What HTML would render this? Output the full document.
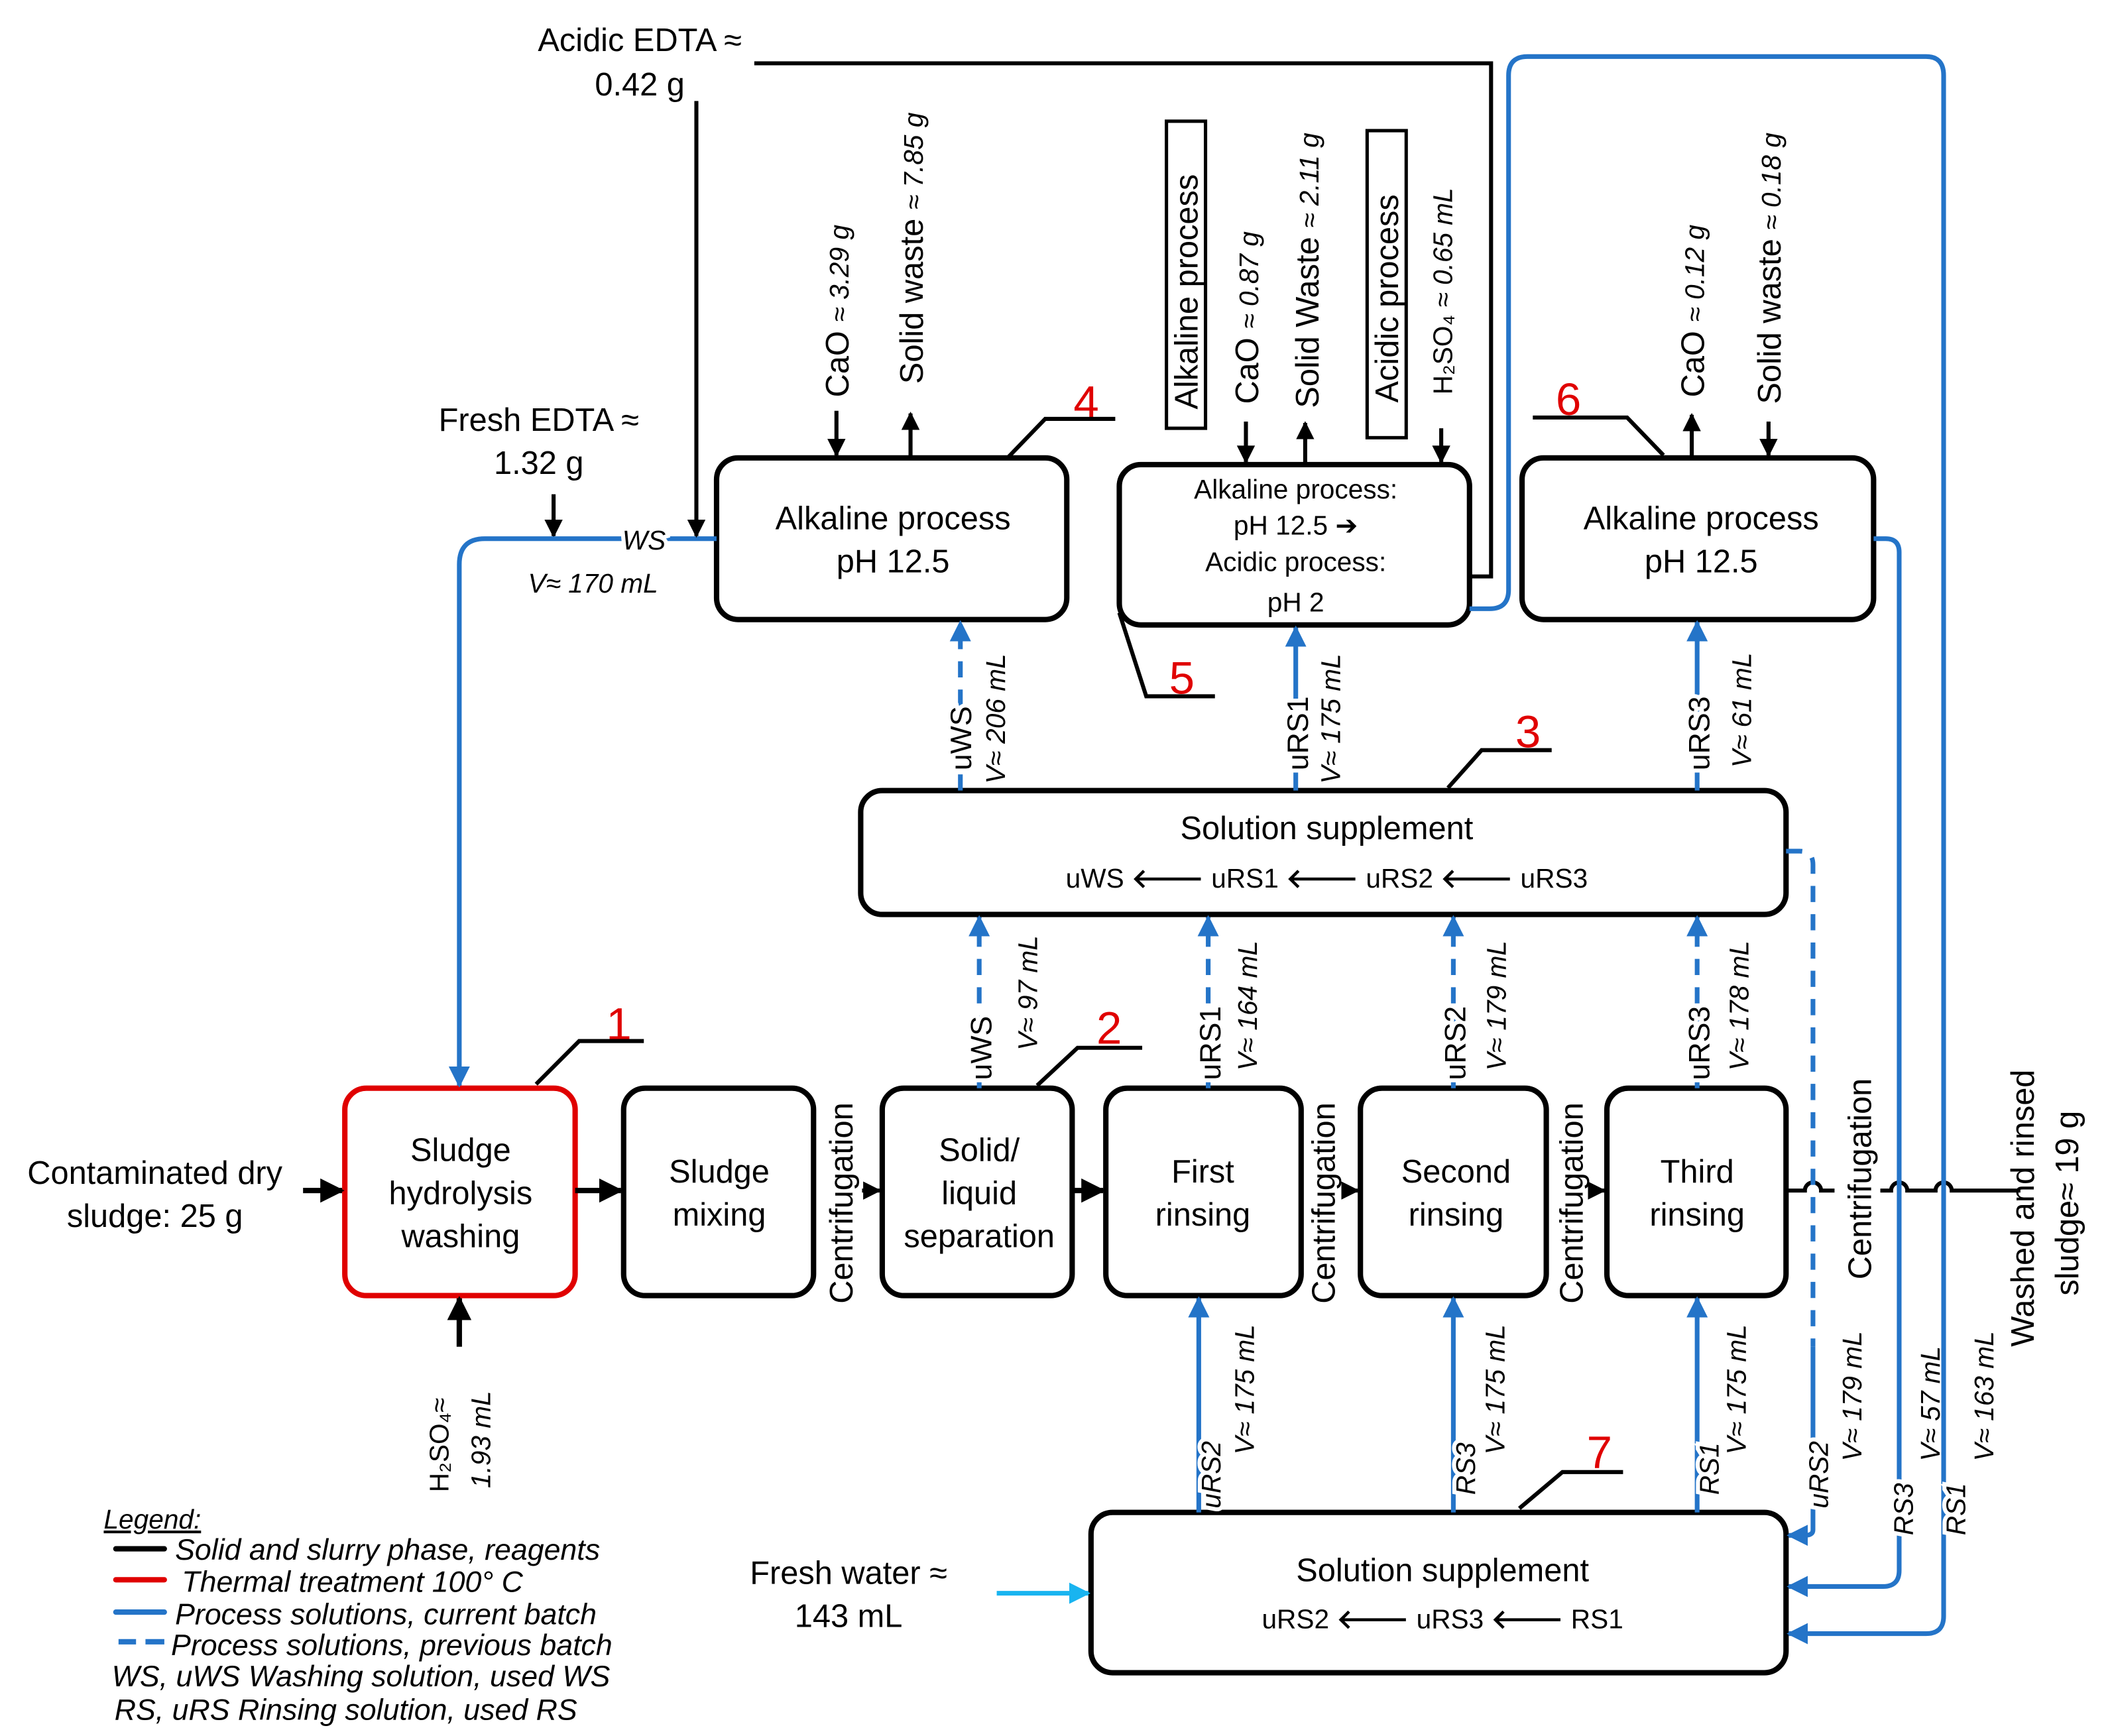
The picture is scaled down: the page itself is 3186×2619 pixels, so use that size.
<!DOCTYPE html>
<html><head><meta charset="utf-8"><style>
html,body{margin:0;padding:0;background:#fff}
svg{display:block}
text{font-family:"Liberation Sans",Arial,sans-serif;fill:#000}
.it{font-style:italic}
.b{fill:none;stroke:#000;stroke-width:4}
.l{fill:none;stroke:#000;stroke-width:3}
.bl{fill:none;stroke:#2474c8;stroke-width:3.5}
.dl{fill:none;stroke:#2474c8;stroke-width:3.5;stroke-dasharray:12,9}
.r{fill:#e00000;font-size:34px}
</style></head><body>
<svg width="3186" height="2619" viewBox="0 0 1568 1289" preserveAspectRatio="none" xmlns="http://www.w3.org/2000/svg">
<defs>
<marker id="ak" viewBox="0 0 10 10" refX="9" refY="5" markerWidth="4.5" markerHeight="4.5" orient="auto" markerUnits="strokeWidth"><path d="M0,0L10,5L0,10z" fill="#000"/></marker>
<marker id="ab" viewBox="0 0 10 10" refX="9" refY="5" markerWidth="4.5" markerHeight="4.5" orient="auto" markerUnits="strokeWidth"><path d="M0,0L10,5L0,10z" fill="#2474c8"/></marker>
<marker id="ac" viewBox="0 0 10 10" refX="9" refY="5" markerWidth="4.5" markerHeight="4.5" orient="auto" markerUnits="strokeWidth"><path d="M0,0L10,5L0,10z" fill="#19b4f0"/></marker>
</defs>

<rect x="256" y="808" width="171" height="154" rx="16" fill="none" stroke="#e00000" stroke-width="4"/>
<rect x="463" y="808" width="141" height="154" rx="16" class="b"/>
<rect x="655" y="808" width="141" height="154" rx="16" class="b"/>
<rect x="821" y="808" width="145" height="154" rx="16" class="b"/>
<rect x="1010" y="808" width="138" height="154" rx="16" class="b"/>
<rect x="1193" y="808" width="133" height="154" rx="16" class="b"/>
<rect x="639" y="587" width="687" height="92" rx="16" class="b"/>
<rect x="532" y="340" width="260" height="120" rx="16" class="b"/>
<rect x="831" y="345" width="260" height="119" rx="16" class="b"/>
<rect x="1130" y="340" width="261" height="120" rx="16" class="b"/>
<rect x="810" y="1123" width="516" height="119" rx="16" class="b"/>

<g font-size="24" text-anchor="middle">
<text x="342" y="862">Sludge</text><text x="342" y="894">hydrolysis</text><text x="342" y="926">washing</text>
<text x="534" y="878">Sludge</text><text x="534" y="910">mixing</text>
<text x="727" y="862">Solid/</text><text x="727" y="894">liquid</text><text x="727" y="926">separation</text>
<text x="893" y="878">First</text><text x="893" y="910">rinsing</text>
<text x="1081" y="878">Second</text><text x="1081" y="910">rinsing</text>
<text x="1260" y="878">Third</text><text x="1260" y="910">rinsing</text>
<text x="985" y="623">Solution supplement</text>
<text x="663" y="393">Alkaline process</text><text x="663" y="425">pH 12.5</text>
<text x="1263" y="393">Alkaline process</text><text x="1263" y="425">pH 12.5</text>
<text x="1071" y="1174">Solution supplement</text>
<text x="115" y="879">Contaminated dry</text><text x="115" y="911">sludge: 25 g</text>
<text x="400" y="320">Fresh EDTA ≈</text><text x="400" y="352">1.32 g</text>
<text x="475" y="38">Acidic EDTA ≈</text><text x="475" y="71">0.42 g</text>
<text x="630" y="1176">Fresh water ≈</text><text x="630" y="1208">143 mL</text>
</g>
<g font-size="20" text-anchor="middle">
<text x="985" y="659">uWS <tspan font-weight="bold">🡐</tspan> uRS1 <tspan font-weight="bold">🡐</tspan> uRS2 <tspan font-weight="bold">🡐</tspan> uRS3</text>
<text x="1071" y="1209">uRS2 <tspan font-weight="bold">🡐</tspan> uRS3 <tspan font-weight="bold">🡐</tspan> RS1</text>
<text x="962" y="370">Alkaline process:</text>
<text x="962" y="397">pH 12.5 ➔</text>
<text x="962" y="424">Acidic process:</text>
<text x="962" y="454">pH 2</text>
</g>

<line x1="225" y1="884" x2="254" y2="884" class="b" marker-end="url(#ak)"/>
<line x1="427" y1="884" x2="461" y2="884" class="b" marker-end="url(#ak)"/>
<line x1="640" y1="884" x2="653" y2="884" class="l" marker-end="url(#ak)"/>
<line x1="796" y1="884" x2="819" y2="884" class="b" marker-end="url(#ak)"/>
<line x1="1000" y1="884" x2="1008" y2="884" class="l" marker-end="url(#ak)"/>
<line x1="1184" y1="884" x2="1191" y2="884" class="l" marker-end="url(#ak)"/>
<path d="M1326,884 H1340 A6,6 0 0 1 1352,884 H1362 M1396,884 H1404 A6,6 0 0 1 1416,884 H1437 A6,6 0 0 1 1449,884 H1500" class="l"/>
<g font-size="24">
<text transform="translate(633,968) rotate(-90)">Centrifugation</text>
<text transform="translate(991,968) rotate(-90)">Centrifugation</text>
<text transform="translate(1175,968) rotate(-90)">Centrifugation</text>
<text transform="translate(1389,950) rotate(-90)">Centrifugation</text>
<text transform="translate(1510,1000) rotate(-90)">Washed and rinsed</text>
<text transform="translate(1543,962) rotate(-90)">sludge≈ 19 g</text>
</g>

<line x1="341" y1="1000" x2="341" y2="964" class="b" marker-end="url(#ak)"/>
<text font-size="20" transform="translate(333,1108) rotate(-90)">H₂SO₄≈</text>
<text font-size="20" class="it" transform="translate(364,1105) rotate(-90)">1.93 mL</text>

<line x1="411" y1="367" x2="411" y2="398" class="l" marker-end="url(#ak)"/>
<path d="M532,400 H360 Q341,400 341,419 V806" class="bl" marker-end="url(#ab)"/>
<text x="462" y="408" font-size="20" class="it" fill="#000" style="paint-order:stroke" stroke="#fff" stroke-width="6">WS</text>
<text x="392" y="440" font-size="20" class="it">V≈ 170 mL</text>
<line x1="517" y1="75" x2="517" y2="398" class="l" marker-end="url(#ak)"/>
<path d="M560,47 H1107 V428 H1091" class="l"/>
<path d="M1091,452 H1106 Q1120,452 1120,438 V56 Q1120,42 1134,42 H1430 Q1443,42 1443,56 V1200 Q1443,1213 1430,1213 H1328" class="bl" marker-end="url(#ab)"/>
<path d="M1391,400 H1400 Q1410,400 1410,410 V1166 Q1410,1178 1398,1178 H1328" class="bl" marker-end="url(#ab)"/>
<path d="M1326,632 H1336 Q1346,632 1346,642 V1000" class="dl"/>
<path d="M1346,1000 V1136 Q1346,1140 1340,1140 H1328" class="bl" marker-end="url(#ab)"/>

<line x1="621" y1="305" x2="621" y2="338" class="l" marker-end="url(#ak)"/>
<line x1="676" y1="340" x2="676" y2="307" class="l" marker-end="url(#ak)"/>
<text font-size="24" transform="translate(630,295) rotate(-90)">CaO <tspan class="it" font-size="20">≈ 3.29 g</tspan></text>
<text font-size="24" transform="translate(685,285) rotate(-90)">Solid waste <tspan class="it" font-size="20">≈ 7.85 g</tspan></text>
<text class="r" x="797" y="310">4</text>
<path d="M748,340 L776,311 H828" class="l"/>

<rect x="866" y="90" width="29" height="228" fill="none" stroke="#000" stroke-width="2.5"/>
<text font-size="24" transform="translate(889,304) rotate(-90)">Alkaline process</text>
<rect x="1015" y="97" width="29" height="228" fill="none" stroke="#000" stroke-width="2.5"/>
<text font-size="24" transform="translate(1038,299) rotate(-90)">Acidic process</text>
<line x1="925" y1="313" x2="925" y2="343" class="l" marker-end="url(#ak)"/>
<line x1="969" y1="345" x2="969" y2="314" class="l" marker-end="url(#ak)"/>
<line x1="1070" y1="318" x2="1070" y2="343" class="l" marker-end="url(#ak)"/>
<text font-size="24" transform="translate(934,300) rotate(-90)">CaO <tspan class="it" font-size="20">≈ 0.87 g</tspan></text>
<text font-size="24" transform="translate(979,303) rotate(-90)">Solid Waste <tspan class="it" font-size="20">≈ 2.11 g</tspan></text>
<text font-size="20" transform="translate(1078,293) rotate(-90)">H₂SO₄ <tspan class="it">≈ 0.65 mL</tspan></text>
<text class="r" x="868" y="515">5</text>
<path d="M831,455 L851,517 H902" class="l"/>

<text class="r" x="1155" y="308">6</text>
<path d="M1138,310 H1208 L1235,338" class="l"/>
<line x1="1256" y1="340" x2="1256" y2="308" class="l" marker-end="url(#ak)"/>
<line x1="1313" y1="313" x2="1313" y2="338" class="l" marker-end="url(#ak)"/>
<text font-size="24" transform="translate(1265,295) rotate(-90)">CaO <tspan class="it" font-size="20">≈ 0.12 g</tspan></text>
<text font-size="24" transform="translate(1322,300) rotate(-90)">Solid waste <tspan class="it" font-size="20">≈ 0.18 g</tspan></text>

<line x1="713" y1="587" x2="713" y2="462" class="dl" marker-end="url(#ab)"/>
<line x1="962" y1="587" x2="962" y2="466" class="bl" marker-end="url(#ab)"/>
<line x1="1260" y1="587" x2="1260" y2="462" class="bl" marker-end="url(#ab)"/>
<g font-size="22">
<text transform="translate(721,572) rotate(-90)" style="paint-order:stroke" stroke="#fff" stroke-width="6">uWS</text>
<text transform="translate(971,572) rotate(-90)" style="paint-order:stroke" stroke="#fff" stroke-width="6">uRS1</text>
<text transform="translate(1269,572) rotate(-90)" style="paint-order:stroke" stroke="#fff" stroke-width="6">uRS3</text>
</g>
<g font-size="20" class="it">
<text transform="translate(746,582) rotate(-90)">V≈ 206 mL</text>
<text transform="translate(995,582) rotate(-90)">V≈ 175 mL</text>
<text transform="translate(1300,570) rotate(-90)">V≈ 61 mL</text>
</g>
<text class="r" x="1125" y="555">3</text>
<path d="M1075,585 L1100,557 H1152" class="l"/>

<line x1="727" y1="808" x2="727" y2="681" class="dl" marker-end="url(#ab)"/>
<line x1="897" y1="808" x2="897" y2="681" class="dl" marker-end="url(#ab)"/>
<line x1="1079" y1="808" x2="1079" y2="681" class="dl" marker-end="url(#ab)"/>
<line x1="1260" y1="808" x2="1260" y2="681" class="dl" marker-end="url(#ab)"/>
<g font-size="22">
<text transform="translate(736,802) rotate(-90)" style="paint-order:stroke" stroke="#fff" stroke-width="6">uWS</text>
<text transform="translate(906,802) rotate(-90)" style="paint-order:stroke" stroke="#fff" stroke-width="6">uRS1</text>
<text transform="translate(1088,802) rotate(-90)" style="paint-order:stroke" stroke="#fff" stroke-width="6">uRS2</text>
<text transform="translate(1269,802) rotate(-90)" style="paint-order:stroke" stroke="#fff" stroke-width="6">uRS3</text>
</g>
<g font-size="20" class="it">
<text transform="translate(770,780) rotate(-90)">V≈ 97 mL</text>
<text transform="translate(933,795) rotate(-90)">V≈ 164 mL</text>
<text transform="translate(1118,795) rotate(-90)">V≈ 179 mL</text>
<text transform="translate(1298,795) rotate(-90)">V≈ 178 mL</text>
</g>
<text class="r" x="814" y="775">2</text>
<path d="M770,806 L800,778 H848" class="l"/>
<text class="r" x="450" y="772">1</text>
<path d="M398,805 L430,773 H478" class="l"/>

<line x1="890" y1="1123" x2="890" y2="964" class="bl" marker-end="url(#ab)"/>
<line x1="1079" y1="1123" x2="1079" y2="964" class="bl" marker-end="url(#ab)"/>
<line x1="1260" y1="1123" x2="1260" y2="964" class="bl" marker-end="url(#ab)"/>
<g font-size="20" class="it">
<text transform="translate(906,1120) rotate(-90)" style="paint-order:stroke" stroke="#fff" stroke-width="6">uRS2</text>
<text transform="translate(1095,1110) rotate(-90)" style="paint-order:stroke" stroke="#fff" stroke-width="6">RS3</text>
<text transform="translate(1276,1110) rotate(-90)" style="paint-order:stroke" stroke="#fff" stroke-width="6">RS1</text>
<text transform="translate(931,1080) rotate(-90)">V≈ 175 mL</text>
<text transform="translate(1117,1080) rotate(-90)">V≈ 175 mL</text>
<text transform="translate(1296,1080) rotate(-90)">V≈ 175 mL</text>
<text transform="translate(1357,1120) rotate(-90)" style="paint-order:stroke" stroke="#fff" stroke-width="6">uRS2</text>
<text transform="translate(1420,1140) rotate(-90)" style="paint-order:stroke" stroke="#fff" stroke-width="6">RS3</text>
<text transform="translate(1459,1140) rotate(-90)" style="paint-order:stroke" stroke="#fff" stroke-width="6">RS1</text>
<text transform="translate(1382,1085) rotate(-90)">V≈ 179 mL</text>
<text transform="translate(1440,1085) rotate(-90)">V≈ 57 mL</text>
<text transform="translate(1480,1085) rotate(-90)">V≈ 163 mL</text>
</g>
<text class="r" x="1178" y="1090">7</text>
<path d="M1128,1120 L1160,1093 H1205" class="l"/>
<line x1="740" y1="1183" x2="808" y2="1183" stroke="#19b4f0" stroke-width="3.5" marker-end="url(#ac)"/>

<g font-size="22" class="it">
<text x="77" y="1135" font-size="20" text-decoration="underline">Legend:</text>
<text x="130" y="1158">Solid and slurry phase, reagents</text>
<text x="135" y="1182">Thermal treatment 100° C</text>
<text x="130" y="1206">Process solutions, current batch</text>
<text x="127" y="1229">Process solutions, previous batch</text>
<text x="83" y="1252">WS, uWS  Washing solution, used WS</text>
<text x="85" y="1277">RS, uRS   Rinsing solution, used RS</text>
</g>
<line x1="86" y1="1150" x2="122" y2="1150" stroke="#000" stroke-width="4" stroke-linecap="round"/>
<line x1="86" y1="1173" x2="122" y2="1173" stroke="#e00000" stroke-width="4" stroke-linecap="round"/>
<line x1="86" y1="1197" x2="122" y2="1197" stroke="#2474c8" stroke-width="4" stroke-linecap="round"/>
<path d="M88,1219 H101 M108,1219 H122" stroke="#2474c8" stroke-width="4"/>
</svg>
</body></html>
